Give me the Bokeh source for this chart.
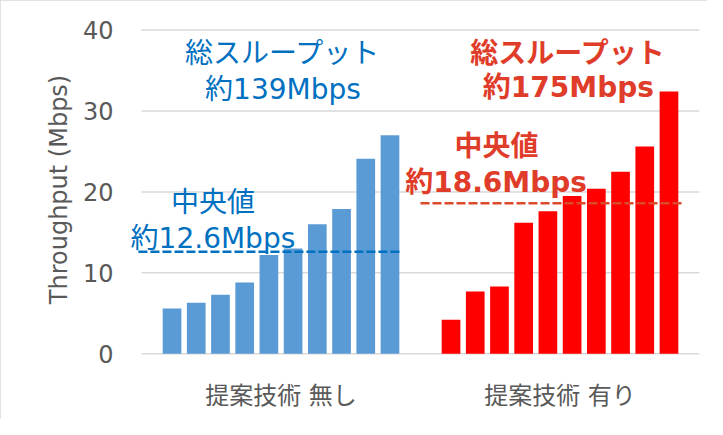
from bokeh.plotting import figure
from bokeh.models import Range1d, FixedTicker, ColumnDataSource, Label
from bokeh.embed import file_html
from bokeh.resources import INLINE

# ---- data ----
groups = ["提案技術 無し", "提案技術 有り"]
without_vals = [5.6, 6.3, 7.3, 8.8, 12.2, 13.0, 16.0, 17.9, 24.1, 27.0]
with_vals = [4.2, 7.7, 8.3, 16.2, 17.6, 19.5, 20.4, 22.5, 25.6, 32.4]
medians = [12.6, 18.6]
totals = [139, 175]
y_ticks = [0, 10, 20, 30, 40]

BLUE_BAR = "#5B9BD5"
RED_BAR = "#FF0000"
BLUE_TXT = "#0070C0"
RED_TXT = "#E03C2A"
RED_DASH = "#DC4A2C"
GRAY = "#595959"
GRID = "#D9D9D9"
FONT = "DejaVu Sans, Noto Sans CJK JP"

step = 0.0868
bar_w = 0.067

def positions(g, n):
    return [g + 0.5 + (i - (n - 1) / 2) * step for i in range(n)]

p = figure(width=707, height=419, output_backend="svg", toolbar_location=None,
           x_range=Range1d(-0.0753, 2.0), y_range=Range1d(-0.457, 41.05),
           min_border_left=120, min_border_right=8, min_border_top=21, min_border_bottom=62)
p.outline_line_color = None
p.background_fill_color = "white"
p.border_fill_color = "white"
p.styles = {"outline": "2px solid #D9D9D9", "outline-offset": "-2px"}

# horizontal gridlines spanning the two categories
p.segment(x0=[0.0] * len(y_ticks), x1=[2.0] * len(y_ticks), y0=y_ticks, y1=y_ticks,
          line_color=GRID, line_width=1.5)

src_a = ColumnDataSource(dict(x=positions(0, len(without_vals)), top=without_vals))
src_b = ColumnDataSource(dict(x=positions(1, len(with_vals)), top=with_vals))
p.vbar(x="x", top="top", bottom=0, width=bar_w, source=src_a, fill_color=BLUE_BAR, line_color=None)
p.vbar(x="x", top="top", bottom=0, width=bar_w, source=src_b, fill_color=RED_BAR, line_color=None)

# median lines
p.segment(x0=[-0.011], x1=[0.925], y0=[medians[0]], y1=[medians[0]], line_color=BLUE_TXT,
          line_width=2.6, line_dash="9 3")
p.segment(x0=[1.0], x1=[1.94], y0=[medians[1]], y1=[medians[1]], line_color=RED_DASH,
          line_width=2.6, line_dash="9 3")

# axes
p.xgrid.grid_line_color = None
p.ygrid.grid_line_color = None
p.yaxis.ticker = FixedTicker(ticks=y_ticks)
p.yaxis.axis_line_color = None
p.yaxis.major_tick_line_color = None
p.yaxis.minor_tick_line_color = None
p.yaxis.major_tick_out = 0
p.yaxis.major_label_standoff = 7
p.yaxis.major_label_text_font = FONT
p.yaxis.major_label_text_font_size = "24px"
p.yaxis.major_label_text_color = GRAY
p.yaxis.axis_label = "Throughput (Mbps)"
p.yaxis.axis_label_text_font = FONT
p.yaxis.axis_label_text_font_size = "24px"
p.yaxis.axis_label_text_font_style = "normal"
p.yaxis.axis_label_text_color = GRAY
p.yaxis.axis_label_standoff = 7

p.xaxis.ticker = FixedTicker(ticks=[0.5, 1.5])
p.xaxis.major_label_overrides = {0.5: groups[0], 1.5: groups[1]}
p.xaxis.axis_line_color = None
p.xaxis.major_tick_line_color = None
p.xaxis.minor_tick_line_color = None
p.xaxis.major_tick_out = 0
p.xaxis.major_label_standoff = 24
p.xaxis.major_label_text_font = FONT
p.xaxis.major_label_text_font_size = "24px"
p.xaxis.major_label_text_color = GRAY

def lab(x, y, text, color, bold=False):
    p.add_layout(Label(x=x, y=y, text=text, text_font=FONT, text_font_size="28px",
                       text_color=color, text_align="center", text_baseline="alphabetic",
                       text_font_style="bold" if bold else "normal"))

lab(0.507, 37.05, "総スループット", BLUE_TXT)
lab(0.507, 32.7, f"約{totals[0]}Mbps", BLUE_TXT)
lab(0.256, 18.65, "中央値", BLUE_TXT)
lab(0.256, 14.3, f"約{medians[0]}Mbps", BLUE_TXT)
lab(1.530, 37.05, "総スループット", RED_TXT, True)
lab(1.530, 32.95, f"約{totals[1]}Mbps", RED_TXT, True)
lab(1.272, 25.6, "中央値", RED_TXT, True)
lab(1.271, 21.2, f"約{medians[1]}Mbps", RED_TXT, True)

open("out.html", "w").write(file_html(p, INLINE))
